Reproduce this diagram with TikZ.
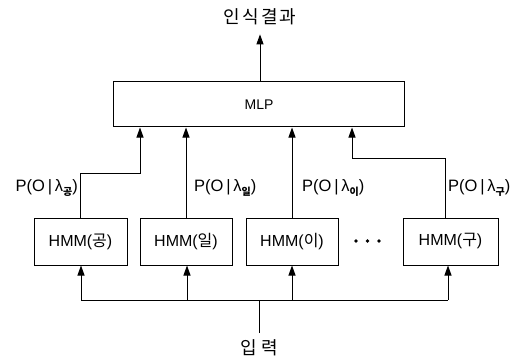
\documentclass[tikz,border=0pt]{standalone}
\usepackage{fontspec}
\setmainfont{Liberation Sans}
\newfontfamily\kr{Noto Sans CJK KR}
\newfontfamily\krs[LetterSpace=12]{Noto Sans CJK KR}
\usetikzlibrary{arrows.meta}
\newcommand\plab[1]{P(O\,|\,λ\raisebox{-4pt}{\kr\fontsize{10}{10}\selectfont\bfseries #1})}
\tikzset{
  box/.style={draw, line width=1pt, minimum height=47pt, inner sep=0pt, font=\fontsize{16}{16}\selectfont},
  arr/.style={line width=1pt, -{Triangle[length=10pt,width=7pt]}},
  ln/.style={line width=1pt},
  lab/.style={inner sep=0pt, font=\fontsize{16.5}{16.5}\selectfont},
  krtxt/.style={inner sep=0pt, font=\krs\fontsize{18}{18}\selectfont},
}
\begin{document}
\begin{tikzpicture}[x=1pt,y=1pt]
\useasboundingbox (0,0) rectangle (516,362);
% nodes
\node[krtxt] (res) at (260,345) {인식결과};
\node[box, minimum width=291pt, minimum height=45pt, font=\fontsize{14}{14}\selectfont] (mlp) at (259,257.5) {MLP};
\node[box, minimum width=93pt] (h1) at (80.5,120.5) {HMM({\kr 공})};
\node[box, minimum width=92pt] (h2) at (186,120.5) {HMM({\kr 일})};
\node[box, minimum width=92pt] (h3) at (292,120.5) {HMM({\kr 이})};
\node[box, minimum width=95pt] (h4) at (450.5,120.5) {HMM({\kr 구})};
\node[krtxt] (inp) at (259,14) {입\hspace{4pt}력};
% dots
\fill (356,121) circle (1.8);
\fill (367.5,121) circle (1.8);
\fill (379,121) circle (1.8);
% coordinates
\coordinate (bus) at (259,62);
\coordinate (b1) at (81,62);
\coordinate (b2) at (187,62);
\coordinate (b3) at (292,62);
\coordinate (b4) at (448,62);
% output arrow
\draw[arr, shorten >=9pt] (mlp.north -| res) -- (res.south);
% HMM -> MLP
\draw[arr] (h1.north) -- (80.5,189) -| (140,0 |- mlp.south);
\draw[arr] (h2.north) -- (h2.north |- mlp.south);
\draw[arr] (h3.north) -- (h3.north |- mlp.south);
\draw[arr] (445,0 |- h4.north) -- (445,204) -| (352,0 |- mlp.south);
% labels
\node[lab, anchor=east] (l1) at (78,174) {\plab{공}};
\node[lab, anchor=west] (l2) at (194,174) {\plab{일}};
\node[lab, anchor=west] (l3) at (302,174) {\plab{이}};
\node[lab, anchor=west] (l4) at (448,174) {\plab{구}};
% input bus
\draw[ln] (inp.north |- 0,29) -- (bus);
\draw[ln] (b1) -- (b4);
\draw[arr] (b1) -- (b1 |- h1.south);
\draw[arr] (b2) -- (b2 |- h2.south);
\draw[arr] (b3) -- (b3 |- h3.south);
\draw[arr] (b4) -- (b4 |- h4.south);
\end{tikzpicture}
\end{document}
